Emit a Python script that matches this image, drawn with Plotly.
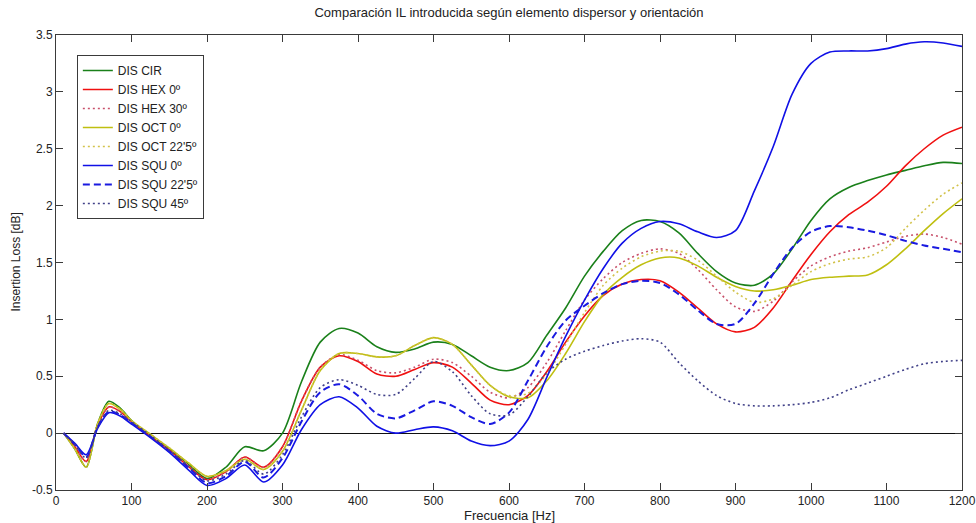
import plotly.graph_objects as go

# Frequency grid [Hz]
freq = [10, 25, 40, 55, 70, 85, 100, 125, 150, 175, 200, 225, 250, 275, 300,
        325, 350, 375, 400, 425, 450, 475, 500, 525, 550, 575, 600, 625, 650,
        675, 700, 725, 750, 775, 800, 825, 850, 875, 900, 925, 950, 975, 1000,
        1025, 1050, 1075, 1100, 1125, 1150, 1175, 1200]

# Insertion loss [dB] for each scatterer / orientation
dis_cir = [0, -0.14, -0.30, 0.08, 0.28, 0.22, 0.11, -0.03, -0.14, -0.27, -0.40,
           -0.30, -0.12, -0.155, 0.0, 0.45, 0.80, 0.92, 0.88, 0.76, 0.71, 0.74,
           0.80, 0.78, 0.68, 0.58, 0.55, 0.62, 0.86, 1.10, 1.38, 1.60, 1.78,
           1.87, 1.86, 1.76, 1.58, 1.42, 1.32, 1.30, 1.40, 1.62, 1.87, 2.06,
           2.16, 2.22, 2.27, 2.31, 2.35, 2.38, 2.37]
dis_hex_0 = [0, -0.12, -0.25, 0.07, 0.23, 0.19, 0.10, -0.03, -0.15, -0.29, -0.41,
             -0.34, -0.21, -0.30, -0.12, 0.28, 0.58, 0.68, 0.63, 0.52, 0.50, 0.56,
             0.62, 0.58, 0.44, 0.29, 0.25, 0.33, 0.54, 0.80, 1.03, 1.21, 1.31,
             1.35, 1.34, 1.24, 1.10, 0.96, 0.89, 0.93, 1.10, 1.34, 1.57, 1.77,
             1.92, 2.03, 2.17, 2.35, 2.50, 2.62, 2.69]
dis_hex_30 = [0, -0.12, -0.25, 0.07, 0.23, 0.19, 0.10, -0.03, -0.15, -0.29, -0.41,
              -0.34, -0.21, -0.30, -0.12, 0.28, 0.58, 0.69, 0.64, 0.55, 0.53, 0.58,
              0.65, 0.62, 0.50, 0.36, 0.31, 0.40, 0.62, 0.90, 1.17, 1.36, 1.50,
              1.58, 1.62, 1.58, 1.44, 1.26, 1.11, 1.07, 1.16, 1.33, 1.47, 1.55,
              1.60, 1.63, 1.68, 1.73, 1.75, 1.72, 1.66]
dis_oct_0 = [0, -0.14, -0.30, 0.08, 0.26, 0.21, 0.11, -0.01, -0.13, -0.26, -0.38,
             -0.33, -0.23, -0.32, -0.16, 0.20, 0.55, 0.70, 0.70, 0.67, 0.68, 0.77,
             0.84, 0.78, 0.60, 0.42, 0.32, 0.31, 0.46, 0.70, 0.98, 1.22, 1.37,
             1.48, 1.54, 1.54, 1.47, 1.37, 1.29, 1.25, 1.26, 1.30, 1.35, 1.37,
             1.38, 1.39, 1.48, 1.62, 1.78, 1.93, 2.06]
dis_oct_22 = [0, -0.14, -0.30, 0.08, 0.26, 0.21, 0.11, -0.01, -0.13, -0.26, -0.38,
              -0.33, -0.23, -0.32, -0.16, 0.20, 0.55, 0.70, 0.70, 0.67, 0.68, 0.77,
              0.84, 0.78, 0.60, 0.42, 0.33, 0.35, 0.52, 0.78, 1.06, 1.30, 1.45,
              1.55, 1.60, 1.60, 1.52, 1.38, 1.24, 1.15, 1.18, 1.30, 1.42, 1.49,
              1.53, 1.55, 1.63, 1.80, 1.96, 2.10, 2.20]
dis_squ_0 = [0, -0.09, -0.19, 0.04, 0.18, 0.15, 0.08, -0.04, -0.17, -0.32, -0.46,
             -0.40, -0.28, -0.43, -0.28, 0.03, 0.25, 0.32, 0.22, 0.06, 0.0, 0.03,
             0.055, 0.02, -0.07, -0.11, -0.07, 0.12, 0.49, 0.85, 1.17, 1.45, 1.67,
             1.80, 1.86, 1.84, 1.77, 1.72, 1.78, 2.13, 2.52, 2.98, 3.25, 3.35,
             3.36, 3.36, 3.38, 3.42, 3.44, 3.43, 3.40]
dis_squ_22 = [0, -0.10, -0.21, 0.05, 0.19, 0.16, 0.09, -0.03, -0.16, -0.30, -0.44,
              -0.38, -0.25, -0.39, -0.22, 0.10, 0.36, 0.43, 0.33, 0.17, 0.13, 0.20,
              0.28, 0.24, 0.14, 0.08, 0.18, 0.46, 0.76, 0.99, 1.12, 1.23, 1.31,
              1.34, 1.32, 1.22, 1.08, 0.96, 0.96, 1.14, 1.40, 1.63, 1.77, 1.82,
              1.81, 1.78, 1.74, 1.69, 1.65, 1.62, 1.59]
dis_squ_45 = [0, -0.10, -0.22, 0.05, 0.20, 0.17, 0.10, -0.02, -0.15, -0.29, -0.42,
              -0.36, -0.24, -0.36, -0.19, 0.14, 0.40, 0.47, 0.42, 0.34, 0.34, 0.48,
              0.63, 0.54, 0.33, 0.17, 0.16, 0.32, 0.53, 0.65, 0.72, 0.77, 0.81,
              0.83, 0.80, 0.62, 0.46, 0.33, 0.26, 0.24, 0.24, 0.25, 0.27, 0.31,
              0.38, 0.44, 0.50, 0.56, 0.61, 0.63, 0.64]

series_names = ["DIS CIR", "DIS HEX 0º", "DIS HEX 30º", "DIS OCT 0º",
                "DIS OCT 22'5º", "DIS SQU 0º", "DIS SQU 22'5º", "DIS SQU 45º"]

x_ticks = [0, 100, 200, 300, 400, 500, 600, 700, 800, 900, 1000, 1100, 1200]
x_tick_text = ["0", "100", "200", "300", "400", "500", "600", "700", "800",
               "900", "1000", "1100", "1200"]
y_ticks = [-0.5, 0, 0.5, 1, 1.5, 2, 2.5, 3, 3.5]
y_tick_text = ["-0.5", "0", "0.5", "1", "1.5", "2", "2.5", "3", "3.5"]

series = [dis_cir, dis_hex_0, dis_hex_30, dis_oct_0,
          dis_oct_22, dis_squ_0, dis_squ_22, dis_squ_45]
styles = [
    dict(color="#1a801a", width=1.6, dash="solid"),
    dict(color="#f01010", width=1.6, dash="solid"),
    dict(color="#c8506a", width=1.6, dash="2px,3px"),
    dict(color="#bfbf10", width=1.6, dash="solid"),
    dict(color="#d2c24a", width=1.6, dash="2px,3px"),
    dict(color="#1010e6", width=1.6, dash="solid"),
    dict(color="#1a1ae0", width=2.0, dash="7px,4px"),
    dict(color="#404088", width=1.6, dash="2px,3px"),
]

font = "Liberation Sans, Arial, sans-serif"
ink = "#222222"

fig = go.Figure()
for name, vals, st in zip(series_names, series, styles):
    fig.add_trace(go.Scatter(
        x=freq, y=vals, name=name, mode="lines",
        line=dict(color=st["color"], width=st["width"], dash=st["dash"],
                  shape="spline", smoothing=0.8),
    ))

axis_common = dict(
    showline=True, linecolor="#3a3a3a", linewidth=1, mirror="ticks",
    ticks="inside", ticklen=7, tickcolor="#3a3a3a", tickwidth=1,
    showgrid=False, automargin=False,
    tickfont=dict(family=font, size=12, color=ink),
)

fig.update_layout(
    width=976, height=523, autosize=False,
    margin=dict(l=56, r=14, t=35, b=33),
    paper_bgcolor="white", plot_bgcolor="white",
    font=dict(family=font, size=12, color=ink),
    title=dict(text="Comparación IL introducida según elemento dispersor y orientación",
               x=0.5, xanchor="center", xref="paper",
               y=1 - 12 / 523, yref="container", yanchor="middle",
               font=dict(family=font, size=13, color=ink)),
    xaxis=dict(range=[0, 1200], tickvals=x_ticks, ticktext=x_tick_text,
               zeroline=False, **axis_common),
    yaxis=dict(range=[-0.5, 3.5], tickvals=y_ticks, ticktext=y_tick_text,
               zeroline=True, zerolinecolor="#111111", zerolinewidth=1,
               **axis_common),
    legend=dict(x=0.023, y=0.956, xanchor="left", yanchor="top",
                bgcolor="white", bordercolor="#3a3a3a", borderwidth=1,
                font=dict(family=font, size=12, color=ink),
                tracegroupgap=0, itemwidth=30),
    showlegend=True,
    annotations=[
        dict(text="Frecuencia [Hz]", xref="paper", yref="paper",
             x=0.5, y=-25 / 455, xanchor="center", yanchor="middle",
             showarrow=False, font=dict(family=font, size=13, color=ink)),
        dict(text="Insertion Loss [dB]", xref="paper", yref="paper",
             x=-41 / 906, y=0.5, xanchor="center", yanchor="middle",
             textangle=-90, showarrow=False,
             font=dict(family=font, size=12, color=ink)),
    ],
)

fig.write_html("out.html")
